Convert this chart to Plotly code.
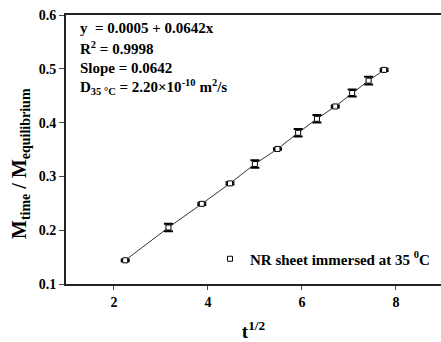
import plotly.graph_objects as go

sqrt_t = [2.24, 3.16, 3.87, 4.47, 5.00, 5.48, 5.92, 6.32, 6.71, 7.07, 7.42, 7.75]
m_ratio = [0.144, 0.205, 0.249, 0.287, 0.323, 0.351, 0.381, 0.407, 0.430, 0.455, 0.478, 0.498]
m_err = [0.0015, 0.007, 0.002, 0.002, 0.007, 0.0015, 0.007, 0.007, 0.002, 0.0065, 0.007, 0.002]

x_ticks = [2, 4, 6, 8]
y_ticks = [0.1, 0.2, 0.3, 0.4, 0.5, 0.6]

FONT = "Liberation Serif"

fig = go.Figure()
fig.add_trace(go.Scatter(
    x=sqrt_t, y=m_ratio, mode="lines",
    line=dict(color="#333333", width=1),
    showlegend=False, hoverinfo="skip"))
fig.add_trace(go.Scatter(
    x=sqrt_t, y=m_ratio, mode="markers",
    marker=dict(symbol="square", size=5, color="white", line=dict(width=1, color="black")),
    error_y=dict(type="data", array=m_err, visible=True, color="black",
                 thickness=2, width=4.5),
    name="NR sheet immersed at 35 <sup>0</sup>C"))

annot = [
    ("y  = 0.0005 + 0.0642x", 28),
    ("R<sup>2</sup> = 0.9998", 48),
    ("Slope = 0.0642", 68),
    ("D<sub>35 °C</sub> = 2.20×10<sup>-10</sup> m<sup>2</sup>/s", 87),
]
for txt, py in annot:
    fig.add_annotation(text=txt, xref="paper", yref="paper",
                       x=(78 - 66) / 375, y=(284 - py) / 269,
                       xanchor="left", yanchor="middle", showarrow=False,
                       font=dict(family=FONT, size=15, color="black", weight="bold"))

# y-axis title as a rotated annotation (positioned like the reference)
fig.add_annotation(text="M<sub>time</sub> / M<sub>equilibrium</sub>",
                   xref="paper", yref="paper", x=(20 - 66) / 375, y=(284 - 164) / 269,
                   xanchor="center", yanchor="middle", textangle=-90, showarrow=False,
                   font=dict(family=FONT, size=20, color="black", weight="bold"))

fig.update_layout(
    width=441, height=342,
    margin=dict(l=66, r=0, t=15, b=58),
    paper_bgcolor="white", plot_bgcolor="white",
    font=dict(family=FONT, size=15, color="black", weight="bold"),
    legend=dict(x=(210 - 66) / 375, y=(284 - 259) / 269, xanchor="left", yanchor="middle",
                bgcolor="rgba(0,0,0,0)", itemwidth=30,
                font=dict(family=FONT, size=15, color="black", weight="bold")),
    xaxis=dict(range=[0.98, 8.96], tickvals=x_ticks, ticks="outside", ticklen=4,
               tickwidth=1, showline=True, linewidth=2, linecolor="#222222",
               mirror=True, showgrid=False, zeroline=False,
               tickfont=dict(family=FONT, size=14, weight="bold"),
               title=dict(text="t<sup>1/2</sup>", standoff=18,
                          font=dict(family=FONT, size=19, weight="bold"))),
    yaxis=dict(range=[0.1, 0.6], tickvals=y_ticks, tickformat=".1f", ticks="outside",
               ticklen=5, tickwidth=1, showline=True, linewidth=2, linecolor="#222222",
               showgrid=False, zeroline=False,
               tickfont=dict(family=FONT, size=14, weight="bold")),
)

fig.write_html("out.html")
